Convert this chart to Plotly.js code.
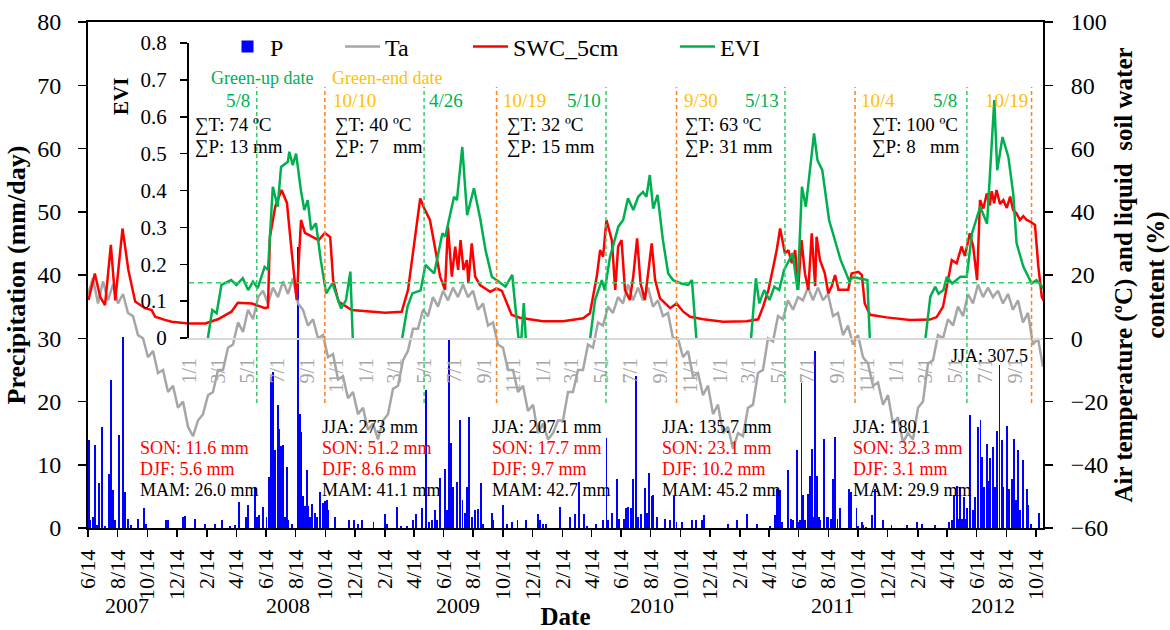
<!DOCTYPE html>
<html><head><meta charset="utf-8">
<script src="https://cdn.plot.ly/plotly-3.0.1.min.js"></script>
<style>html,body{margin:0;padding:0;background:#fff}#chart{width:1170px;height:630px}</style>
</head><body><div id="chart"></div>
<script>
// ---------------- DATA (day offsets are days after 2007-06-14) ----------------
const startDate = '2007-06-14';
const endDay = 1963.5;               // right end of the date axis (2012-10-28)

// Daily precipitation (mm/day)
const pDay = [2,4,11,14,18,23,29,35,44,47,52,56,64,71,73,76,83,88,103,115,119,160,164,196,199,220,241,261,275,292,302,311,325,328,343,348,352,360,367,373,376,381,385,390,393,397,400,405,409,412,419,432,436,439,443,446,450,453,456,460,467,470,477,483,487,491,494,508,537,547,556,563,587,611,615,636,643,655,669,674,686,694,701,707,713,717,724,734,738,743,747,751,758,765,770,775,779,784,789,796,802,808,813,830,833,854,861,871,883,901,926,929,936,941,970,991,1001,1010,1020,1025,1044,1058,1066,1070,1077,1087,1092,1102,1106,1111,1116,1121,1126,1131,1136,1145,1149,1154,1159,1162,1169,1186,1197,1205,1210,1221,1241,1251,1262,1266,1316,1335,1354,1375,1402,1412,1416,1419,1423,1426,1440,1445,1450,1458,1462,1464,1467,1471,1474,1481,1484,1488,1491,1495,1498,1502,1506,1513,1519,1522,1527,1532,1536,1541,1546,1565,1568,1580,1584,1591,1594,1600,1611,1618,1635,1652,1683,1705,1714,1741,1771,1776,1780,1786,1789,1793,1796,1801,1804,1808,1814,1820,1824,1830,1835,1839,1842,1848,1851,1854,1861,1865,1868,1874,1879,1882,1890,1894,1899,1904,1908,1913,1916,1923,1930,1933,1938,1956];
const pVal = [13.9,1.3,1.8,13.1,0.5,7.1,16,0.3,8.6,23.4,6,1.3,14.7,30.2,17,5.7,1.5,0.5,1.5,3.2,0.7,1.2,1.2,1.8,1.9,1.4,0.6,0.6,1.2,0.3,0.5,4.1,1.7,3.6,6.3,1.8,2.1,3.4,1.7,8.1,23.9,24.7,12.3,19.5,15.6,12.9,13.1,1.8,9.7,1.3,0.7,44.5,18,15.2,5,3.5,9.2,3.5,1.8,3.8,2.4,1.8,5.7,3.9,4.2,4.4,2.8,1.7,1.2,1.2,0.6,1.2,1,2.2,0.6,3.3,0.3,0.3,1.3,2.2,3.1,21.8,1,1.3,2.8,1.3,7.9,9.4,2.8,30,13.4,6.5,7.3,17,4.4,2.3,6.5,17.5,1.8,2.8,3,7.1,0.6,2.4,1.3,3.6,0.6,1,1.2,1.2,2.2,1.2,0.6,0.6,3.3,1.7,2.2,7.3,2.2,0.3,0.6,1.2,14.2,1.2,2.3,7.7,1.5,1.4,3.1,3.3,3.1,7.7,24,1.8,2.2,6.3,2.3,8.7,5,5.2,1.7,1.5,1.2,5.1,1,1,1.3,1.2,1.3,2.1,0.6,1.2,2.2,0.7,0.3,2,6.2,6,6,0.9,9.1,1.5,1.2,12.4,0.9,1.2,22.9,5.2,1.2,5.4,8.3,12.5,1.7,28,8.3,1.7,1.2,14.1,1.7,1.7,1.5,7.8,14.4,1.5,3.1,6.2,5.7,3.2,0.3,0.9,0.4,0.2,2.1,6.2,1.2,0.4,0.4,0.9,0.6,0.4,0.9,1.2,5.2,6.7,1.5,6.5,1.5,4.9,1.5,3.1,17.9,2.8,4.9,16,17,11.2,6.5,13.3,7.5,11,12.8,6.5,15.4,25.8,13.9,6.5,16.2,6.2,7.8,14.1,4.4,12.3,2.8,10.7,6.2,3.6,0.7,2.3];

// Air temperature (degC), read about every 10.28 days from the start date
const taStepDays = 10.28;
const taVal = [14,19,11,18,12,17,11,14,8,7,1,0,-6,-4,-11,-10,-17,-15,-22,-20,-28,-31,-26,-24,-18,-17,-10,-10,-3,-2,5,2,9,6,13,15,11,16,13,18,14,19,11,9,4,6,0,1,-6,-5,-13,-12,-19,-17,-24,-22,-29,-27,-32,-26,-24,-16,-15,-7,-4,3,3,9,7,13,10,15,12,16,13,17,13,15,9,11,4,5,-2,-3,-10,-10,-17,-15,-23,-21,-30,-27,-32,-30,-26,-26,-17,-17,-10,-10,-2,-3,5,4,10,8,13,11,17,12,16,12,16,10,12,7,8,0,0,-6,-4,-12,-11,-18,-15,-24,-21,-30,-28,-35,-30,-31,-22,-21,-11,-10,0,-1,7,6,12,9,13,12,16,12,16,12,14,7,8,1,4,-2,1,-6,-8,-15,-14,-21,-18,-27,-25,-33,-30,-32,-22,-20,-8,-7,1,0,6,4,10,7,14,11,17,13,16,13,15,11,14,9,12,5,8,-2,0,-9];

// Liquid soil water content at 5 cm (%)
const swcDay = [1,14,25,35,47,56,71,83,97,117,131,138,158,172,206,241,267,295,308,337,364,370,374,385,398,409,419,429,438,446,474,487,498,504,515,542,611,645,658,668,679,683,693,703,713,724,734,740,748,755,761,766,772,779,782,789,796,806,827,840,851,861,871,888,935,977,1018,1032,1046,1053,1059,1066,1077,1084,1090,1097,1104,1114,1121,1129,1136,1145,1159,1166,1176,1197,1210,1224,1238,1265,1306,1354,1378,1388,1399,1409,1416,1423,1433,1440,1447,1454,1460,1467,1474,1481,1488,1495,1498,1505,1515,1522,1529,1536,1543,1563,1570,1584,1591,1597,1608,1642,1690,1731,1745,1758,1769,1776,1786,1796,1803,1813,1820,1828,1834,1841,1848,1854,1858,1863,1868,1875,1882,1889,1896,1902,1909,1916,1923,1930,1937,1947,1954,1961,1968];
const swcVal = [12.1,20.5,13.1,10.5,29.5,12,34.7,21.6,11.6,9.5,8.9,6.8,5.8,5.2,4.7,4.7,6,8.4,11.2,11,9.5,9.8,32,41.6,46.9,42.8,27,12.1,37.4,33.3,31,33.3,32,18.4,11.6,8.9,8.1,8.4,15.3,26.8,39.6,44.2,40.5,37.4,29,19.5,15.3,35.3,19.5,29,21.6,31,21.6,24.7,17.4,30,19.5,16.8,14.7,15.8,15,11,7.4,6.5,5.4,5.4,6.3,7.9,19.5,27.9,25.8,37.4,31,15.3,29,31,15.3,12.1,19.5,31.6,17.4,12.1,30,18.4,12.6,9.5,11,8.4,6.8,6,5.2,5.4,6,10,15.3,22.6,27.9,34.7,26.8,27.9,23.7,27.9,15.3,31,20.5,15.3,33.2,16.5,32.1,24.7,20.5,14.2,16.4,20,15.3,15.3,20.5,21,20,11,7.4,6.6,5.8,5.9,6.7,10,18.4,24.7,23.7,29,26,33.2,29,18.4,43.7,41,45.8,42,46.5,42.7,46.9,42.5,43.7,41.2,44.8,40.6,39.5,37.4,38.6,37.4,36.9,35.8,22.6,13.1,11];

// EVI (16-day composites; null separates growing seasons)
const eviDay = [240,249,258,268,288,299,312,323,333,343,357,364,374,384,391,405,408,415,422,432,439,446,453,463,473,484,497,515,525,534,539,null,641,652,662,679,689,707,724,730,748,754,765,775,789,802,813,826,840,854,868,881,887,892,896,null,1029,1039,1053,1059,1070,1077,1087,1097,1107,1118,1128,1138,1145,1152,1159,1168,1179,1190,1200,1217,1231,1239,1248,null,1361,1371,1378,1388,1399,1409,1419,1429,1447,1457,1466,1474,1491,1498,1508,1522,1546,1563,1573,1591,1601,1606,null,1721,1731,1741,1748,1758,1765,1776,1793,1806,1817,1834,1848,1863,1869,1880,1892,1902,1909,1923,1940,1950,1961,1968];
const eviVal = [0,0.076,0.067,0.144,0.157,0.144,0.162,0.13,0.153,0.135,0.193,0.185,0.41,0.356,0.464,0.478,0.505,0.469,0.5,0.4,0.347,0.374,0.293,0.311,0.211,0.121,0.148,0.08,0.103,0.18,0,null,0,0.085,0.121,0.129,0.198,0.175,0.284,0.275,0.383,0.374,0.518,0.333,0.406,0.324,0.238,0.166,0.153,0.139,0.171,0,0,0.095,0,null,0,0.103,0.157,0.13,0.22,0.257,0.302,0.32,0.379,0.347,0.383,0.396,0.383,0.442,0.351,0.388,0.266,0.175,0.157,0.148,0.144,0.157,0,null,0,0.162,0.094,0.13,0.103,0.139,0.13,0.184,0.23,0.13,0.41,0.356,0.555,0.482,0.455,0.32,0.211,0.157,0.165,0.16,0.157,0,null,0,0.112,0.139,0.12,0.13,0.166,0.148,0.166,0.166,0.284,0.356,0.31,0.645,0.455,0.545,0.491,0.392,0.257,0.193,0.148,0.157,0.139,0.13];
const eviThreshold = 0.15;

// Phenology dates (label text) and where their dashed lines sit (day offsets)
const greenUpLabels = ['5/8','4/26','5/10','5/13','5/8'];
const greenEndLabels = ['10/10','10/19','9/30','10/4','10/19'];
const greenUpLineDay = [347, 691, 1065, 1433, 1807];
const greenEndLineDay = [487, 840, 1210, 1577, 1940];

// Accumulated temperature / precipitation between green-end and green-up
const sumT = ['74','40','32','63','100'];
const sumP = ['13','7\u00a0\u00a0','15','31','8\u00a0\u00a0'];

// Seasonal precipitation totals
const jjaText = ['JJA: 273 mm','JJA: 207.1 mm','JJA: 135.7 mm','JJA: 180.1','JJA: 307.5'];
const sonText = ['SON: 11.6 mm','SON: 51.2 mm','SON: 17.7 mm','SON: 23.1 mm','SON: 32.3 mm'];
const djfText = ['DJF: 5.6 mm','DJF: 8.6 mm','DJF: 9.7 mm','DJF: 10.2 mm','DJF: 3.1 mm'];
const mamText = ['MAM: 26.0 mm','MAM: 41.1 mm','MAM: 42.7 mm','MAM: 45.2 mm','MAM: 29.9 mm'];

const years = ['2007','2008','2009','2010','2011','2012'];

// ---------------- HELPERS ----------------
const DAY = 86400000;
const T0 = Date.parse(startDate + 'T00:00:00Z');
function dayToDate(d){
  if (d === null) return null;
  return new Date(T0 + d*DAY).toISOString().replace('T',' ').slice(0,19);
}
// pixel -> paper (plot area: x 88..1043, y 22..528)
const PL = 88, PR = 1043, PT = 22, PB = 528;
const xp = x => (x - PL) / (PR - PL);
const yp = y => (PB - y) / (PB - PT);

// x tick labels: the 14th of every second month
const xTickVals = [], xTickText = [];
for (let y = 2007, m = 6; y < 2012 || (y === 2012 && m <= 10); ) {
  xTickVals.push(`${y}-${String(m).padStart(2,'0')}-14`);
  xTickText.push(`${m}/14`);
  m += 2; if (m > 12) { m -= 12; y += 1; }
}
// inner EVI axis labels: 1st of odd months
const x2TickVals = [], x2TickText = [];
for (let y = 2008, m = 1; y < 2012 || (y === 2012 && m <= 9); ) {
  x2TickVals.push(`${y}-${String(m).padStart(2,'0')}-01`);
  x2TickText.push(`${m}/1`);
  m += 2; if (m > 12) { m -= 12; y += 1; }
}

const serif = "'Liberation Serif','Times New Roman',Times,serif";
const GREEN = '#00b050', GOLD = '#ffc000', RED = '#ff0000';

// ---------------- TRACES ----------------
const traces = [
  {type:'bar', name:'P', x:pDay.map(dayToDate), y:pVal, width:pDay.map(()=>4*DAY),
   marker:{color:'#0000ff', line:{width:0}}, xaxis:'x', yaxis:'y', legend:'legend', hoverinfo:'skip'},
  {type:'scatter', mode:'lines', name:'Ta', x:taVal.map((_,i)=>dayToDate(i*taStepDays)), y:taVal,
   line:{color:'#a6a6a6', width:2.5}, xaxis:'x', yaxis:'y2', legend:'legend2'},
  {type:'scatter', mode:'lines', name:'SWC_5cm', x:swcDay.map(dayToDate), y:swcVal,
   line:{color:RED, width:2.5}, xaxis:'x', yaxis:'y2', legend:'legend3'},
  {type:'scatter', mode:'lines', name:'EVI', x:eviDay.map(dayToDate), y:eviVal, connectgaps:false,
   line:{color:GREEN, width:2.5}, xaxis:'x2', yaxis:'y3', legend:'legend4'}
];

// ---------------- LAYOUT ----------------
const shapes = [];
shapes.push({type:'line', xref:'paper', yref:'y3', x0:xp(189), x1:1, y0:eviThreshold, y1:eviThreshold,
  line:{color:'#33cc66', width:1.5, dash:'5px,4px'}});
greenUpLineDay.forEach(d => shapes.push({type:'line', xref:'x', yref:'paper', x0:dayToDate(d), x1:dayToDate(d),
  y0:yp(403), y1:yp(87), line:{color:'#33cc66', width:1.5, dash:'4px,3px'}}));
greenEndLineDay.forEach(d => shapes.push({type:'line', xref:'x', yref:'paper', x0:dayToDate(d), x1:dayToDate(d),
  y0:yp(403), y1:yp(87), line:{color:'#ff8020', width:1.5, dash:'4px,3px'}}));

const annotations = [];
function ann(text, x, y, size, color, xanchor, extra){
  annotations.push(Object.assign({xref:'paper', yref:'paper', x:xp(x), y:yp(y), text, showarrow:false,
    xanchor:xanchor||'left', yanchor:'middle', font:{family:serif, size, color:color||'#000'}}, extra||{}));
}
ann('Green-up date', 209, 78, 18, GREEN);
ann('Green-end date', 330, 78, 18, GOLD);
// phenology date labels (pixel anchors)
const upLabelPos = [[252,'right'],[427,'left'],[603,'right'],[781,'right'],[959,'right']];
const endLabelPos = [[331,'left'],[501,'left'],[682,'left'],[859,'left'],[1030,'right']];
greenUpLabels.forEach((t,i)=>ann(t, upLabelPos[i][0], 100, 19, GREEN, upLabelPos[i][1]));
greenEndLabels.forEach((t,i)=>ann(t, endLabelPos[i][0], 100, 19, GOLD, endLabelPos[i][1]));
const sumPos = [193, 333, 505, 683, 870];
sumT.forEach((t,i)=>{
  ann('\u2211T: ' + t + ' \u00baC', sumPos[i], 125, 19);
  ann('\u2211P: ' + sumP[i] + ' mm', sumPos[i], 147, 19);
});
// seasonal blocks
const blockX = [138, 320, 490, 660, 851];
sonText.forEach((t,i)=>{
  if (i > 0) ann(jjaText[i-1], blockX[i], 427, 18);
  ann(t, blockX[i], 448, 18, RED);
  ann(djfText[i], blockX[i], 469, 18, RED);
  ann(mamText[i], blockX[i], 490, 18);
});
ann(jjaText[4], 949, 356, 18);
// year labels
const yearX = [127, 288, 458, 652, 832, 993];
years.forEach((t,i)=>ann(t, yearX[i], 605, 22, '#000', 'center'));
// EVI axis title
ann('<b>EVI</b>', 121, 97, 21, '#000', 'center', {textangle:-90});

const legendBase = {orientation:'h', xanchor:'left', yanchor:'middle', y:yp(47), bgcolor:'rgba(0,0,0,0)',
  borderwidth:0, font:{family:serif, size:24, color:'#000'}, itemwidth:35, itemclick:false, itemdoubleclick:false};

const layout = {
  width:1170, height:630,
  margin:{l:PL, r:1170-PR, t:PT, b:630-PB, pad:0},
  paper_bgcolor:'#ffffff', plot_bgcolor:'rgba(0,0,0,0)',
  font:{family:serif, color:'#000', size:20},
  barmode:'overlay', bargap:0,
  showlegend:true,
  legend:Object.assign({}, legendBase, {x:xp(225)}),
  legend2:Object.assign({}, legendBase, {x:xp(340)}),
  legend3:Object.assign({}, legendBase, {x:xp(468)}),
  legend4:Object.assign({}, legendBase, {x:xp(675)}),
  xaxis:{type:'date', domain:[0,1], anchor:'y', range:[dayToDate(0), dayToDate(endDay)],
    tickmode:'array', tickvals:xTickVals, ticktext:xTickText, tickangle:-90,
    ticks:'outside', ticklen:7, tickwidth:1.5, tickcolor:'#000', ticklabelstandoff:4,
    showline:true, linecolor:'#000', linewidth:2, mirror:true, showgrid:false, zeroline:false,
    tickfont:{size:22},
    title:{text:'Date', font:{size:25, weight:'bold'}, standoff:22}},
  yaxis:{domain:[0,1], anchor:'x', range:[0,80], dtick:10, ticks:'outside', ticklen:8, tickwidth:1.5,
    tickcolor:'#000', showline:true, linecolor:'#000', linewidth:2, showgrid:false, zeroline:false,
    tickfont:{size:24}, ticklabelstandoff:12,
    title:{text:'Precipitation (mm/day)', font:{size:26, weight:'bold'}, standoff:4}},
  yaxis2:{overlaying:'y', side:'right', anchor:'x', range:[-60,100], dtick:20, ticks:'outside', ticklen:8,
    tickwidth:1.5, tickcolor:'#000', showline:true, linecolor:'#000', linewidth:2, showgrid:false, zeroline:false,
    tickfont:{size:24}, ticklabelstandoff:13,
    title:{text:'Air temperature (\u00baC) and liquid\u00a0\u00a0soil water<br>content (%)', font:{size:25, weight:'bold'}, standoff:14}},
  xaxis2:{type:'date', domain:[xp(189),1], anchor:'y3', range:['2008-01-01', dayToDate(endDay)],
    tickmode:'array', tickvals:x2TickVals, ticktext:x2TickText, tickangle:-90, ticks:'',
    ticklabelstandoff:10, showline:true, linecolor:'#d9d9d9', linewidth:2, showgrid:false, zeroline:false,
    tickfont:{size:20, color:'#a6a6a6'}},
  yaxis3:{domain:[yp(338), yp(43)], anchor:'x2', side:'left', range:[0,0.8], dtick:0.1,
    ticks:'outside', ticklen:7, tickwidth:1.5, tickcolor:'#000', showline:true, linecolor:'#000', linewidth:2,
    showgrid:false, zeroline:false, tickfont:{size:21}, ticklabelstandoff:9},
  shapes, annotations
};

Plotly.newPlot('chart', traces, layout, {displayModeBar:false, staticPlot:true});
</script>
</body></html>
